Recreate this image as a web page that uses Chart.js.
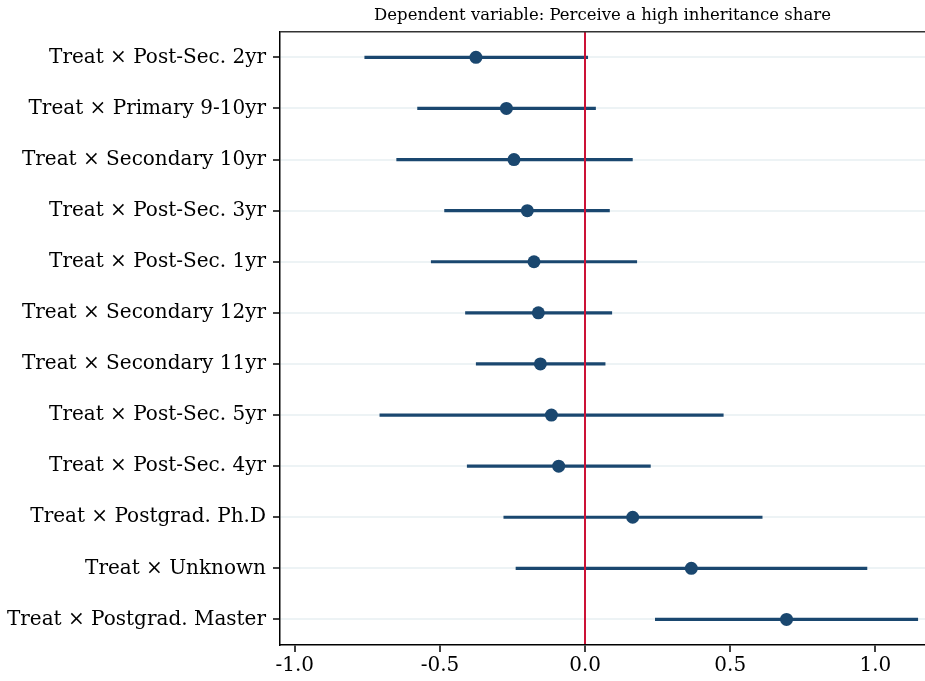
<!DOCTYPE html>
<html>
<head>
<meta charset="utf-8">
<script src="https://cdn.jsdelivr.net/npm/chart.js@4/dist/chart.umd.min.js"></script>
<style>
  body { margin: 0; background: #fff; }
  #wrap { width: 925px; height: 681px; position: relative; }
</style>
</head>
<body>
<div id="wrap"><canvas id="coefplot"></canvas></div>
<script>
// coefficients, read top to bottom
var categories = [
    "Treat × Post-Sec. 2yr",
    "Treat × Primary 9-10yr",
    "Treat × Secondary 10yr",
    "Treat × Post-Sec. 3yr",
    "Treat × Post-Sec. 1yr",
    "Treat × Secondary 12yr",
    "Treat × Secondary 11yr",
    "Treat × Post-Sec. 5yr",
    "Treat × Post-Sec. 4yr",
    "Treat × Postgrad. Ph.D",
    "Treat × Unknown",
    "Treat × Postgrad. Master"
];
var estimates = [-0.376, -0.271, -0.245, -0.199, -0.176, -0.161, -0.154, -0.116, -0.091, 0.164, 0.366, 0.694];
var ciLow = [-0.759, -0.577, -0.649, -0.484, -0.530, -0.412, -0.375, -0.707, -0.406, -0.280, -0.238, 0.242];
var ciHigh = [0.009, 0.036, 0.163, 0.084, 0.178, 0.092, 0.069, 0.476, 0.225, 0.610, 0.971, 1.146];
var xTicks = [-1.0, -0.5, 0.0, 0.5, 1.0];

var navy = "#1a476f";
var labelFont = { family: "DejaVu Serif", size: 20 };

// top frame line
var topBorder = {
    id: "topBorder",
    afterDraw: function(chart) {
        var a = chart.chartArea, ctx = chart.ctx;
        ctx.save();
        ctx.strokeStyle = "#333";
        ctx.lineWidth = 1.5;
        ctx.beginPath();
        ctx.moveTo(a.left, a.top);
        ctx.lineTo(a.right, a.top);
        ctx.stroke();
        ctx.restore();
    }
};

new Chart(document.getElementById("coefplot"), {
    type: "bar",
    data: {
        labels: categories,
        datasets: [{
            type: "line",
            indexAxis: "y",
            showLine: false,
            data: categories.map(function(c, i) { return { x: estimates[i], y: c }; }),
            pointRadius: 6.5,
            pointBackgroundColor: navy,
            pointBorderWidth: 0,
            order: 0
        }, {
            type: "bar",
            indexAxis: "y",
            data: categories.map(function(c, i) { return [ciLow[i], ciHigh[i]]; }),
            backgroundColor: navy,
            borderWidth: 0,
            barThickness: 2.5,
            order: 1
        }]
    },
    options: {
        indexAxis: "y",
        responsive: true,
        maintainAspectRatio: false,
        animation: false,
        layout: { padding: 0, autoPadding: false },
        plugins: {
            legend: { display: false },
            tooltip: { enabled: false },
            title: {
                display: true,
                fullSize: false,
                text: "Dependent variable: Perceive a high inheritance share",
                color: "#000",
                font: { family: "DejaVu Serif", size: 16.5, weight: "normal" },
                lineHeight: 1.1,
                padding: { top: 6, bottom: 6 }
            }
        },
        scales: {
            x: {
                type: "linear",
                min: -1.051,
                max: 1.171,
                afterBuildTicks: function(scale) {
                    scale.ticks = xTicks.map(function(v) { return { value: v }; });
                },
                afterFit: function(scale) { scale.height = 36; },
                ticks: {
                    color: "#000",
                    font: labelFont,
                    padding: 2,
                    callback: function(v) { return Number(v).toFixed(1); }
                },
                grid: {
                    z: 1,
                    color: function(ctx) { return ctx.tick && ctx.tick.value === 0 ? "#cc1236" : "rgba(0,0,0,0)"; },
                    lineWidth: 2,
                    tickColor: "#000",
                    tickWidth: 1.5,
                    tickLength: 7
                },
                border: { display: true, color: "#000", width: 1.5, z: 1 }
            },
            y: {
                type: "category",
                offset: true,
                afterFit: function(scale) { scale.width = 280; },
                ticks: { color: "#000", font: labelFont, padding: 7 },
                grid: {
                    offset: false,
                    color: "#edf3f5",
                    lineWidth: 2,
                    tickColor: "#000",
                    tickWidth: 1.5,
                    tickLength: 7
                },
                border: { display: true, color: "#000", width: 1.5 }
            }
        }
    },
    plugins: [topBorder]
});
</script>
</body>
</html>
